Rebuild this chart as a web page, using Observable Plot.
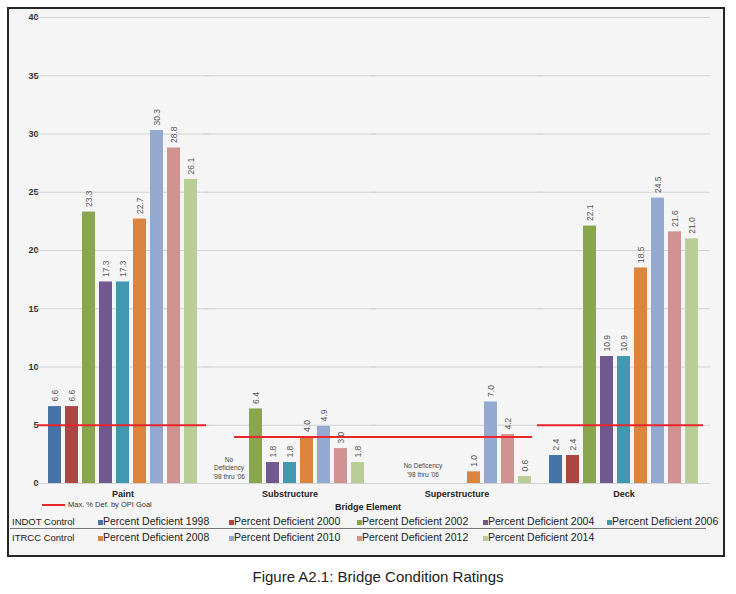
<!DOCTYPE html>
<html>
<head>
<meta charset="utf-8">
<script src="https://cdn.jsdelivr.net/npm/d3@7"></script>
<script src="https://cdn.jsdelivr.net/npm/@observablehq/plot@0.6"></script>
<style>
  body { margin: 0; background: #fff; font-family: "Liberation Sans", Arial, sans-serif; }
  #page { position: relative; width: 736px; height: 594px; overflow: hidden; background: #fff; }
  #frame { position: absolute; left: 7px; top: 7px; width: 718px; height: 550px; box-sizing: border-box; border: 2px solid #262626; background: #f5f5f5; }
  #chart { position: absolute; left: 0; top: 0; }
  #chart g[aria-label="y-axis tick label"] text { font-weight: bold; font-size: 9px; fill: #333; }
  #chart g[aria-label="fx-axis tick label"] text { font-weight: bold; font-size: 9px; fill: #222; }
  .abs { position: absolute; white-space: nowrap; }
  .lg { font-size: 10.5px; color: #222; line-height: 13px; }
  .grp { font-size: 9.5px; color: #222; line-height: 13px; }
</style>
</head>
<body>
<div id="page">
  <div id="frame"></div>
  <div id="chart"></div>
</div>
<script>
// ---- data ----
const elements = ["Paint", "Substructure", "Superstructure", "Deck"];
const years = ["1998", "2000", "2002", "2004", "2006", "2008", "2010", "2012", "2014"];
const seriesLabels = years.map(y => "Percent Deficient " + y);
const colors = ["#4572a7", "#aa4643", "#89a54e", "#71588f", "#4198af", "#db843d", "#93a9cf", "#d19392", "#b9cd96"];
const paint = [6.6, 6.6, 23.3, 17.3, 17.3, 22.7, 30.3, 28.8, 26.1];
const substructure = [null, null, 6.4, 1.8, 1.8, 4.0, 4.9, 3.0, 1.8];
const superstructure = [null, null, null, null, null, 1.0, 7.0, 4.2, 0.6];
const deck = [2.4, 2.4, 22.1, 10.9, 10.9, 18.5, 24.5, 21.6, 21.0];
const goals = [5, 4, 4, 5];
const yTicks = [0, 5, 10, 15, 20, 25, 30, 35, 40];
const groupLabels = ["INDOT Control", "ITRCC Control"];
const goalLabel = "Max. % Def. by OPI Goal";
const noDefSub = "No\nDeficiency\n'98 thru '06";
const noDefSuper = "No Deficency\n'98 thru '06";
const xLabel = "Bridge Element";
const title = "Figure A2.1: Bridge Condition Ratings";

// ---- build tables ----
const series = [paint, substructure, superstructure, deck];
const rows = [];
elements.forEach((e, i) => series[i].forEach((v, j) => {
  if (v != null) rows.push({element: e, year: years[j], value: v});
}));
const goalRows = elements.map((e, i) => ({element: e, goal: goals[i]}));
const noteRows = [
  {element: "Substructure", year: "1998", text: noDefSub},
  {element: "Superstructure", year: "2002", text: noDefSuper}
];

const goalInsets = {
  Paint: [-5, -3], Substructure: [25, -3], Superstructure: [-3, 5], Deck: [-6, 1]
};

const chart = Plot.plot({
  width: 736, height: 500,
  marginLeft: 35, marginRight: 26, marginTop: 17, marginBottom: 17,
  style: {background: "transparent", fontFamily: "Liberation Sans, Arial, sans-serif", overflow: "visible"},
  fx: {domain: elements, paddingInner: 0.036, paddingOuter: 0.03, axis: "bottom", tickSize: 0, tickPadding: 7, label: null},
  x: {domain: years, paddingInner: 0.222, paddingOuter: 0.1, axis: null},
  y: {domain: [0, 40], ticks: yTicks, tickSize: 0, tickPadding: 4, label: null},
  color: {domain: years, range: colors},
  marks: [
    Plot.gridY(yTicks, {stroke: "#d2d2d2", strokeOpacity: 1, insetLeft: -6, insetRight: -6}),
    Plot.barY(rows, {fx: "element", x: "year", y: "value", fill: "year"}),
    ...goalRows.map(g => Plot.ruleY([g], {
      fx: "element", y: "goal", stroke: "#e8262c", strokeWidth: 2,
      insetLeft: goalInsets[g.element][0], insetRight: goalInsets[g.element][1]
    })),
    Plot.text(rows, {
      fx: "element", x: "year", y: "value", text: d => d.value.toFixed(1),
      rotate: -90, textAnchor: "start", dy: -5, fontSize: 8.5, fill: "#555"
    }),
    Plot.text(noteRows.filter(d => d.element === "Substructure"), {
      fx: "element", x: "year", text: "text", frameAnchor: "bottom", lineAnchor: "bottom",
      dy: -5, dx: 7, fontSize: 6.5, fill: "#444", lineHeight: 1.25
    }),
    Plot.text(noteRows.filter(d => d.element === "Superstructure"), {
      fx: "element", x: "year", text: "text", frameAnchor: "bottom", lineAnchor: "bottom",
      dy: -7, fontSize: 6.5, fill: "#444", lineHeight: 1.25
    })
  ]
});
document.getElementById("chart").appendChild(chart);

// ---- HTML legend & labels ----
const page = document.getElementById("page");
function add(html, css, cls) {
  const d = document.createElement("div");
  d.className = "abs " + (cls || "");
  d.style.cssText += css;
  d.innerHTML = html;
  page.appendChild(d);
  return d;
}
// goal legend
add("", "left:42px;top:504px;width:23px;height:2px;background:#e8262c;");
add(goalLabel, "left:68px;top:500px;font-size:7.5px;line-height:10px;color:#333;");
// axis title
add(xLabel, "left:268px;top:501px;width:200px;text-align:center;font-size:9px;font-weight:bold;line-height:12px;color:#222;");
// legend rows
const cols = [98, 229, 357, 483, 607];
const rowTops = [515, 531];
groupLabels.forEach((g, r) => {
  add(g, `left:12px;top:${rowTops[r]}px;`, "grp");
  const idx = r === 0 ? [0, 1, 2, 3, 4] : [5, 6, 7, 8];
  idx.forEach((k, c) => {
    add("", `left:${cols[c]}px;top:${rowTops[r] + 5}px;width:5px;height:5px;background:${colors[k]};`);
    add(seriesLabels[k], `left:${cols[c] + 5}px;top:${rowTops[r]}px;`, "lg");
  });
});
add("", "left:10px;top:527.5px;width:696px;height:1.5px;background:#777;");
// caption
add(title, "left:178px;top:568px;width:400px;text-align:center;font-size:15px;line-height:17px;color:#222;");
</script>
</body>
</html>
